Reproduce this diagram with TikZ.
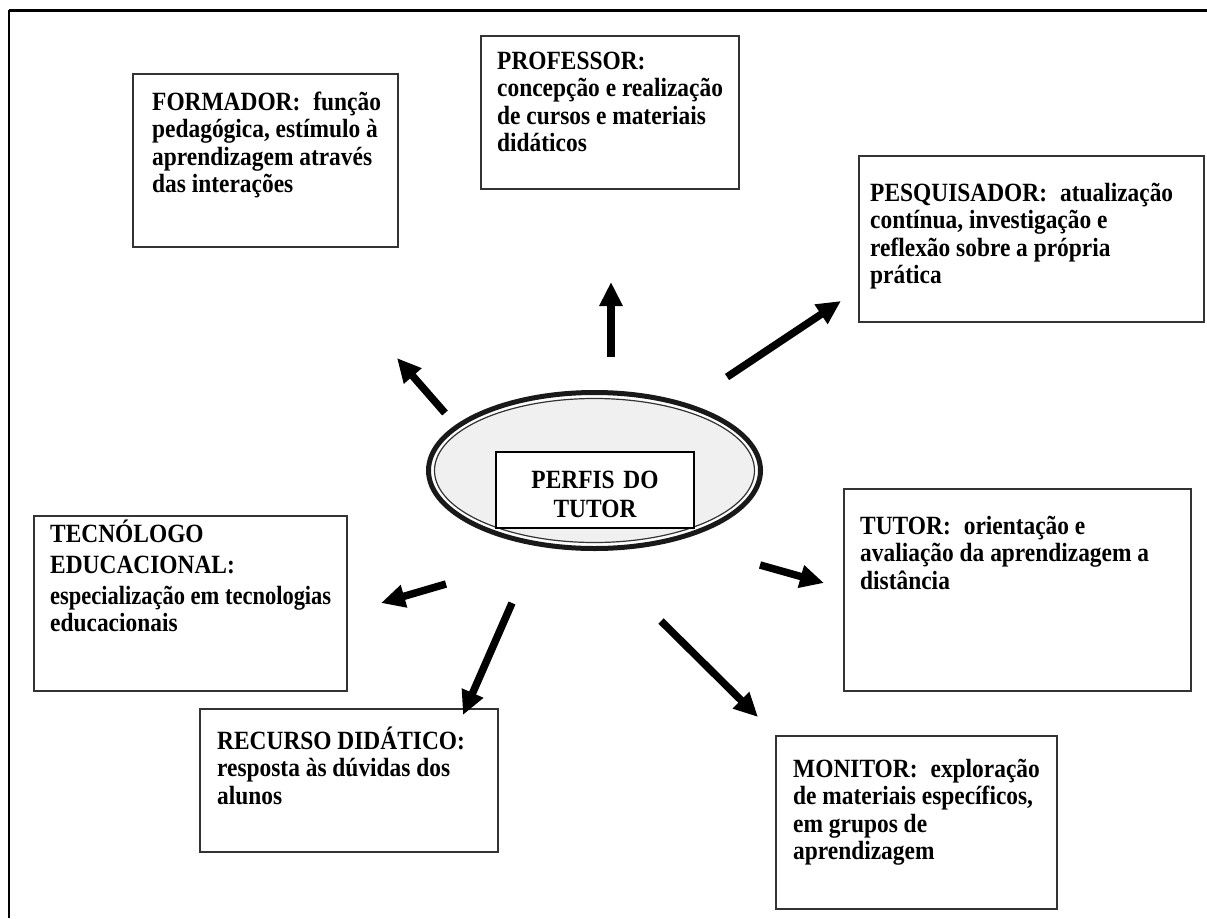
\documentclass[tikz,border=0pt]{standalone}
\usepackage{fontspec}
\setmainfont{Liberation Serif}[FakeStretch=0.89]
\usetikzlibrary{arrows.meta,shapes.geometric}
\newcommand{\dsp}{\hspace{13pt}}
\begin{document}
\begin{tikzpicture}[x=1pt,y=-1pt,
  box/.style={draw=black!80, line width=1.8pt, fill=white, anchor=north west, inner sep=0pt},
  txt/.style={anchor=base west, inner sep=0pt, align=flush left, text width=360pt, font=\fontsize{26.3}{27.6}\selectfont\bfseries},
  bigarrow/.style={line width=7.5pt, -{Triangle[length=24pt,width=22pt]}}
]
\useasboundingbox (0,0) rectangle (1207,918);
% outer frame
\draw[line width=3pt] (9,10) -- (1207,10);
\draw[line width=2.5pt] (9,10) -- (9,918);

% boxes
\node[box, minimum width=265pt, minimum height=173pt] (formador) at (132,73) {};
\node[box, minimum width=258pt, minimum height=153pt] (professor) at (480,35) {};
\node[box, minimum width=345pt, minimum height=166pt] (pesquisador) at (858,155) {};
\node[box, minimum width=313pt, minimum height=175pt] (tecnologo) at (33,515) {};
\node[box, minimum width=347pt, minimum height=202pt] (tutor) at (843,488) {};
\node[box, minimum width=298pt, minimum height=143pt] (recurso) at (199,708) {};
\node[box, minimum width=281pt, minimum height=173pt] (monitor) at (775,735) {};

% texts
\node[txt] (formadortxt) at (152,110) {FORMADOR:\dsp função\\pedagógica, estímulo à\\aprendizagem através\\das interações};
\node[txt] (professortxt) at (497,69) {PROFESSOR:\\concepção e realização\\de cursos e materiais\\didáticos};
\node[txt] (pesquisadortxt) at (870,201) {PESQUISADOR:\dsp atualização\\contínua, investigação e\\reflexão sobre a própria\\prática};
\node[txt] (tecnologotxt) at (50,542) {TECNÓLOGO\\[4pt]EDUCACIONAL:\\[3pt]{\addfontfeature{FakeStretch=0.855}especialização em tecnologias}\\educacionais};
\node[txt] (tutortxt) at (860,534) {TUTOR:\dsp orientação e\\avaliação da aprendizagem a\\distância};
\node[txt] (recursotxt) at (217,749) {RECURSO DIDÁTICO:\\resposta às dúvidas dos\\alunos};
\node[txt] (monitortxt) at (793,777) {MONITOR:\dsp exploração\\de materiais específicos,\\em grupos de\\aprendizagem};

% centre
\node[ellipse, draw=black!90, line width=5pt, fill=white, minimum width=332pt, minimum height=156pt, inner sep=0pt] (centro) at (594.5,470.5) {};
\node[ellipse, draw=black!80, line width=1.2pt, fill=black!6, minimum width=320pt, minimum height=144pt, inner sep=0pt] (centroin) at (594.5,470.5) {};
\node[draw=black, line width=1.5pt, fill=white, minimum width=198pt, minimum height=76pt, inner sep=0pt] (perfisbox) at (595,490) {};
\node[anchor=base, inner sep=0pt, align=center, text width=190pt, font=\fontsize{26.3}{29}\selectfont\bfseries] (perfis) at (595,488) {PERFIS DO\\TUTOR};

% arrows
\coordinate (s1) at (445,413); \coordinate (e1) at (397,358);
\coordinate (s2) at (611,357); \coordinate (e2) at (611,282);
\coordinate (s3) at (727,377); \coordinate (e3) at (841,301);
\coordinate (s4) at (760,565); \coordinate (e4) at (824,583);
\coordinate (s5) at (661,621); \coordinate (e5) at (758,717);
\coordinate (s6) at (446,584); \coordinate (e6) at (381,603);
\coordinate (s7) at (512,603); \coordinate (e7) at (463,715);
\foreach \i in {1,...,7} \draw[bigarrow] (s\i) -- (e\i);
\end{tikzpicture}
\end{document}
